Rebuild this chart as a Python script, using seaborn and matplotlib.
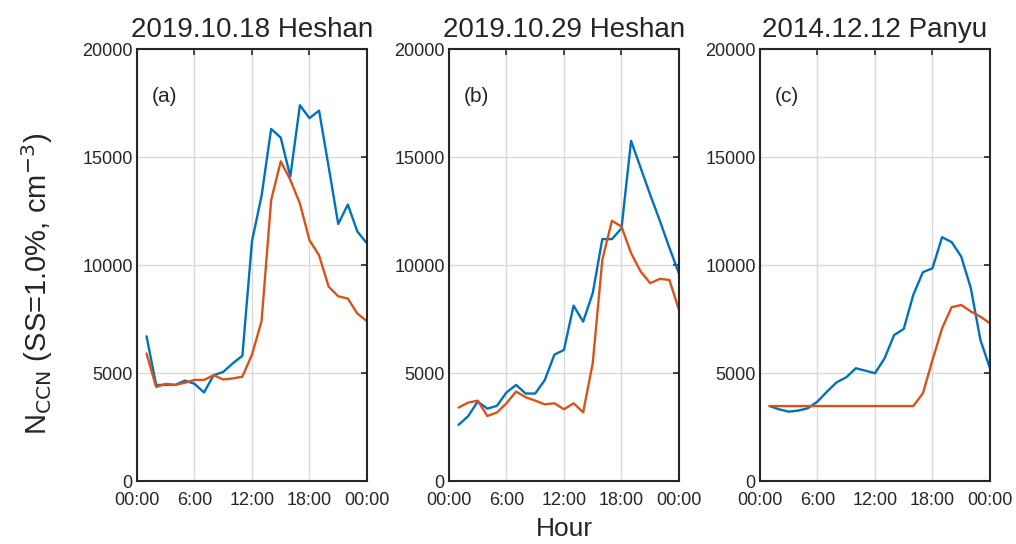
import numpy as np
import pandas as pd
import matplotlib
matplotlib.use("Agg")
import matplotlib.pyplot as plt
import seaborn as sns

# Hour of day (hourly values, 01:00 .. 24:00)
hours = list(range(1, 25))

titles = ["2019.10.18 Heshan", "2019.10.29 Heshan", "2014.12.12 Panyu"]
panel_tags = ["(a)", "(b)", "(c)"]

# N_CCN at SS=1.0% (cm^-3), first series (blue)
blue_a = [6700, 4450, 4450, 4450, 4650, 4500, 4100, 4900, 5050, 5450, 5800, 11100,
          13200, 16300, 15900, 14100, 17400, 16800, 17150, 14550, 11900, 12800, 11550, 11000]
blue_b = [2600, 3000, 3680, 3350, 3480, 4100, 4450, 4050, 4050, 4680, 5850, 6070,
          8120, 7380, 8700, 11200, 11200, 11700, 15750, 14500, 13250, 12050, 10800, 9600]
blue_c = [3470, 3320, 3210, 3260, 3370, 3680, 4140, 4570, 4800, 5220, 5110, 4990,
          5680, 6760, 7040, 8620, 9670, 9850, 11290, 11060, 10390, 8930, 6530, 5220]

# N_CCN at SS=1.0% (cm^-3), second series (orange)
orange_a = [5900, 4350, 4500, 4450, 4550, 4680, 4680, 4900, 4700, 4750, 4830, 5850,
            7400, 13000, 14800, 13950, 12850, 11150, 10450, 9000, 8550, 8450, 7750, 7400]
orange_b = [3400, 3630, 3720, 3010, 3170, 3600, 4140, 3880, 3720, 3550, 3600, 3320,
            3600, 3180, 5450, 10240, 12050, 11780, 10550, 9700, 9160, 9360, 9310, 7920]
orange_c = [3470, 3470, 3470, 3470, 3470, 3470, 3470, 3470, 3470, 3470, 3470, 3470,
            3470, 3470, 3470, 3470, 4060, 5600, 7070, 8050, 8150, 7850, 7610, 7300]

xtick_pos = [0, 6, 12, 18, 24]
xtick_labels = ["00:00", "6:00", "12:00", "18:00", "00:00"]
ytick_pos = [0, 5000, 10000, 15000, 20000]

BLUE = "#0072BD"
ORANGE = "#D95319"

sns.set_style("white")
plt.rcParams["font.family"] = ["Liberation Sans", "DejaVu Sans"]

fig = plt.figure(figsize=(10.16, 5.44), dpi=100)
lefts = [0.1348, 0.4419, 0.748]
width = 0.2264
bottom = 0.1158
height = 0.794

series = [(blue_a, orange_a), (blue_b, orange_b), (blue_c, orange_c)]

for i, (bl, orr) in enumerate(series):
    ax = fig.add_axes([lefts[i], bottom, width, height])
    df = pd.DataFrame({"hour": hours, "blue": bl, "orange": orr})
    sns.lineplot(data=df, x="hour", y="blue", ax=ax, color=BLUE, linewidth=1.7)
    sns.lineplot(data=df, x="hour", y="orange", ax=ax, color=ORANGE, linewidth=1.7)
    ax.set_xlim(0, 24)
    ax.set_ylim(0, 20000)
    ax.set_xticks(xtick_pos)
    ax.set_xticklabels(xtick_labels)
    ax.set_yticks(ytick_pos)
    ax.grid(True, color="#d9d9d9", linewidth=1.0)
    ax.set_axisbelow(True)
    ax.tick_params(direction="in", length=4, width=1.2, top=True, right=True,
                   labelsize=13, colors="#262626")
    ax.tick_params(axis="x", pad=8)
    ax.tick_params(axis="y", pad=3)
    for lab in ax.get_xticklabels() + ax.get_yticklabels():
        lab.set_color("#262626")
    for sp in ax.spines.values():
        sp.set_visible(True)
        sp.set_color("#262626")
        sp.set_linewidth(1.5)
    ax.set_xlabel("")
    ax.set_ylabel("")
    ax.set_title(titles[i], fontsize=20, pad=9)
    ax.text(0.065, 0.89, panel_tags[i], transform=ax.transAxes, fontsize=15,
            ha="left", va="center")

fig.text(0.556, 0.027, "Hour", ha="center", va="center", fontsize=19,
         color="#262626")
fig.text(0.036, 0.478, r"N$_{\mathrm{CCN}}$ (SS=1.0%, cm$^{-3}$)", rotation=90,
         ha="center", va="center", fontsize=21, color="#262626")

fig.savefig("out.png", dpi=100)
